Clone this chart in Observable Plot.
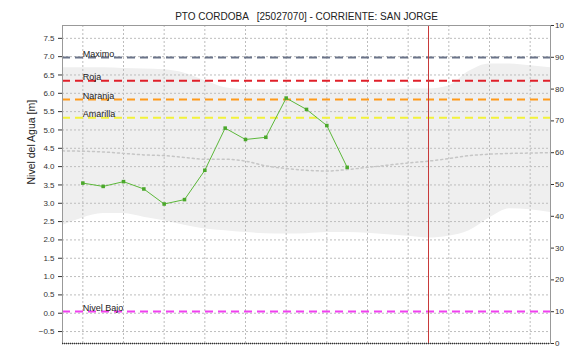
<!DOCTYPE html>
<html><head><meta charset="utf-8">
<script src="https://cdn.jsdelivr.net/npm/d3@7"></script>
<script src="https://cdn.jsdelivr.net/npm/@observablehq/plot@0.6"></script>
<style>
html,body{margin:0;padding:0;background:#fff;overflow:hidden}
#chart svg{display:block}
</style>
</head><body><div id="chart"></div>
<script>
const title = "PTO CORDOBA   [25027070] - CORRIENTE: SAN JORGE";
const yLabel = "Nivel del Agua [m]";

// observed water level (daily)
const obsDay = [0, 1, 2, 3, 4, 5, 6, 7, 8, 9, 10, 11, 12, 13];
const obsLevel = [3.55, 3.46, 3.59, 3.39, 2.98, 3.10, 3.90, 5.05, 4.74, 4.80, 5.87, 5.56, 5.12, 3.98];

// historical envelope and mean
const bandDay = [-1, 0, 1, 2, 3, 4, 5, 6, 7, 8, 9, 10, 11, 12, 13, 14, 15, 16, 17, 18, 19, 20, 21, 22, 23];
const bandLow = [2.39, 2.6, 2.72, 2.72, 2.62, 2.52, 2.4, 2.3, 2.25, 2.2, 2.17, 2.16, 2.17, 2.2, 2.2, 2.18, 2.14, 2.1, 2.05, 2.1, 2.25, 2.6, 2.85, 2.82, 2.75];
const bandHigh = [6.7, 6.7, 6.7, 6.68, 6.66, 6.64, 6.55, 6.35, 6.15, 6.1, 6.1, 6.1, 6.1, 6.1, 6.1, 6.1, 6.1, 6.12, 6.12, 6.2, 6.6, 6.8, 6.8, 6.75, 6.7];
const meanLevel = [4.43, 4.42, 4.4, 4.36, 4.32, 4.3, 4.25, 4.2, 4.2, 4.15, 4.02, 3.95, 3.9, 3.88, 3.92, 3.98, 4.04, 4.1, 4.15, 4.22, 4.3, 4.34, 4.36, 4.37, 4.38];

// alert thresholds
const thresholdNames = ["Maximo", "Roja", "Naranja", "Amarilla", "Nivel Bajo"];
const thresholdValues = [6.98, 6.34, 5.83, 5.33, 0.05];
const thresholdColors = ["#6b7489", "#e0202a", "#ff9a1a", "#f2f23a", "#f040f0"];

const todayDay = 17;
const gridDays = [0, 2, 4, 6, 8, 10, 12, 14, 16, 18, 20, 22];
const leftTicks = [-0.5, 0, 0.5, 1, 1.5, 2, 2.5, 3, 3.5, 4, 4.5, 5, 5.5, 6, 6.5, 7, 7.5];
const rightTicks = [0, 10, 20, 30, 40, 50, 60, 70, 80, 90, 100];
const xDomain = [-1, 23];
const yDomain = [-0.826, 7.85];

const rightToY = r => yDomain[0] + r / 100 * (yDomain[1] - yDomain[0]);
const yToRight = v => Math.round((v - yDomain[0]) / (yDomain[1] - yDomain[0]) * 100);
const tIdx = thresholdNames.map((_, i) => i);

const chart = Plot.plot({
  width: 564, height: 349,
  marginLeft: 62, marginRight: 14, marginTop: 25, marginBottom: 6,
  style: {fontFamily: "'Liberation Sans', Arial, sans-serif", fontSize: "8px", background: "#fff", color: "#333"},
  x: {domain: xDomain, axis: null},
  y: {domain: yDomain, axis: null},
  marks: [
    Plot.areaY(bandDay, {x: bandDay, y1: bandLow, y2: bandHigh, fill: "#efefef", curve: "monotone-x"}),
    Plot.ruleY(leftTicks, {stroke: "#bdbdbd", strokeDasharray: "2,2"}),
    Plot.ruleX(gridDays, {stroke: "#bdbdbd", strokeDasharray: "2,2"}),
    Plot.line(bandDay, {x: bandDay, y: meanLevel, stroke: "#c6c6c6", strokeWidth: 1.5, strokeDasharray: "2,3", curve: "monotone-x"}),
    Plot.ruleY(tIdx, {y: i => thresholdValues[i], stroke: i => thresholdColors[i], strokeWidth: 2, strokeDasharray: "8,5"}),
    Plot.ruleX([todayDay], {stroke: "#c83a3a", strokeWidth: 1}),
    Plot.line(obsDay, {x: obsDay, y: obsLevel, stroke: "#5cb83a", strokeWidth: 1}),
    Plot.dot(obsDay, {x: obsDay, y: obsLevel, symbol: "square", r: 2, fill: "#4aa82a"}),
    Plot.text(tIdx, {x: () => obsDay[0], y: i => thresholdValues[i], text: i => thresholdNames[i], textAnchor: "start", lineAnchor: "bottom", dy: -0.5, fontSize: 9, fill: "#222"}),
    Plot.frame({stroke: "#999"}),
    Plot.ruleY([yDomain[0]], {stroke: "#333", strokeDasharray: "1,1", strokeWidth: 1.5}),
    Plot.axisY(leftTicks, {anchor: "left", tickFormat: d3.format(".1f"), tickSize: 4, tickPadding: 4, label: null}),
    Plot.axisY(rightTicks.map(rightToY), {anchor: "right", tickFormat: yToRight, tickSize: 3, tickPadding: 1.5, label: null}),
    Plot.text([yLabel], {frameAnchor: "left", rotate: -90, dx: -31, fontSize: 10.5, fill: "#222"}),
    Plot.text([title], {frameAnchor: "top", lineAnchor: "bottom", dy: -6, fontSize: 10, fill: "#222"})
  ]
});
document.getElementById("chart").appendChild(chart);
</script>
</body></html>
